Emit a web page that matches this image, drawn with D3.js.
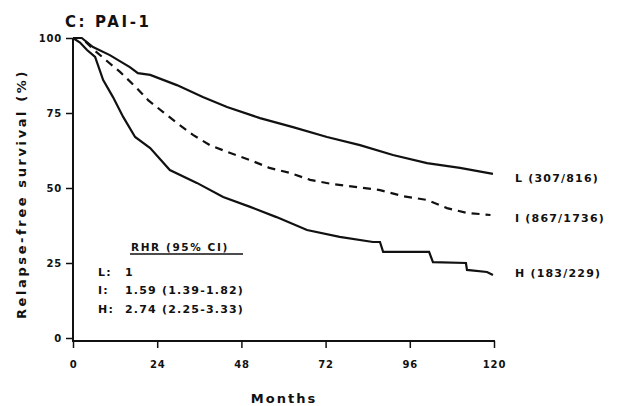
<!DOCTYPE html>
<html><head><meta charset="utf-8">
<script src="https://cdn.jsdelivr.net/npm/d3@7"></script>
<style>body{margin:0;background:#fff}svg{display:block}text{font-family:"DejaVu Sans",sans-serif;font-weight:bold;fill:#111}</style>
</head><body><svg id="c" width="617" height="406"></svg>
<script>
const xTicks = [0, 24, 48, 72, 96, 120];
const yTicks = [0, 25, 50, 75, 100];
const lowSeries = [[0,100],[2.5,100],[5.7,97],[10.5,94.3],[16.2,90.3],[18.5,88.3],[22,87.7],[29.6,84.3],[37,80.3],[43.9,77],[53.3,73.3],[62.7,70.3],[72.4,67],[81.8,64.3],[91.2,61],[100.9,58.3],[110.3,56.7],[119.7,54.7]];
const interSeries = [[0,100],[2.5,100],[6,96],[10,92],[13.4,88.7],[18.2,83.3],[21.4,79.3],[25.7,75.3],[29.6,71.7],[34.2,67.7],[39,64.3],[44,62],[50.5,59.3],[56,56.7],[61.9,55],[67.6,52.7],[74,51.3],[81,50.3],[87.5,49.3],[94,47.3],[101,46],[106.6,43.3],[112.3,41.7],[119,41]];
const highSeries = [[0,100],[2,98.5],[4,96],[6.3,93.7],[8.6,86],[11.4,80.3],[14.3,73.7],[17.7,67],[22,63.3],[27.6,56],[35.3,51.7],[42.8,47],[50.5,43.7],[58,40.3],[66.7,36],[76,33.7],[85.5,32],[87.5,32],[88.4,28.7],[99,28.7],[101.5,28.7],[102.6,25.3],[112,25],[112.3,22.7],[118,22],[119.7,21]];
const seriesLabels = ["L (307/816)", "I (867/1736)", "H (183/229)"];
const hrHeader = "RHR (95% CI)";
const hrGroups = ["L:", "I:", "H:"];
const hrValues = ["1", "1.59 (1.39-1.82)", "2.74 (2.25-3.33)"];

const svg = d3.select("#c");
const x = d3.scaleLinear().domain([0,120]).range([73,494]);
const y = d3.scaleLinear().domain([0,100]).range([338,38]);

svg.append("text").attr("x",65).attr("y",27).attr("font-size",15).attr("letter-spacing",2.6).text("C: PAI-1");

// y axis
const ya = svg.append("g").attr("transform","translate(73,0)")
  .call(d3.axisLeft(y).tickValues(yTicks).tickSize(7).tickPadding(4));
ya.select(".domain").attr("d","M0,38V341").attr("stroke","#111").attr("stroke-width",2);
ya.selectAll(".tick line").attr("stroke","#111").attr("stroke-width",1.5);
ya.selectAll(".tick text").attr("font-size",10).attr("letter-spacing",0.8).attr("font-family","DejaVu Sans").attr("font-weight","bold").attr("fill","#111");

// x axis
const xa = svg.append("g").attr("transform","translate(0,341)")
  .call(d3.axisBottom(x).tickValues(xTicks).tickSize(7).tickPadding(13));
xa.select(".domain").attr("d","M72,0H495").attr("stroke","#111").attr("stroke-width",2);
xa.selectAll(".tick line").attr("stroke","#111").attr("stroke-width",1.5);
xa.selectAll(".tick text").attr("font-size",10).attr("letter-spacing",0.8).attr("font-family","DejaVu Sans").attr("font-weight","bold").attr("fill","#111");

svg.append("text").attr("x",284).attr("y",403).attr("text-anchor","middle").attr("font-size",13).attr("letter-spacing",2).text("Months");
svg.append("text").attr("transform","translate(26,194) rotate(-90)").attr("text-anchor","middle").attr("font-size",13).attr("letter-spacing",2.6).text("Relapse-free survival (%)");

const line = d3.line().x(d=>x(d[0])).y(d=>y(d[1]));
svg.append("path").attr("d",line(lowSeries)).attr("fill","none").attr("stroke","#111").attr("stroke-width",2.2);
svg.append("path").attr("d",line(interSeries)).attr("fill","none").attr("stroke","#111").attr("stroke-width",2.2).attr("stroke-dasharray","8,6");
svg.append("path").attr("d",line(highSeries)).attr("fill","none").attr("stroke","#111").attr("stroke-width",2.2);

const labelY = [178, 218, 273];
seriesLabels.forEach((t,i)=>svg.append("text").attr("x",515).attr("y",labelY[i]+4).attr("font-size",11).attr("letter-spacing",1.2).text(t));

svg.append("text").attr("x",131).attr("y",251).attr("font-size",10.5).attr("letter-spacing",1.6).text(hrHeader);
svg.append("line").attr("x1",130).attr("x2",243).attr("y1",254).attr("y2",254).attr("stroke","#111").attr("stroke-width",1.6);
const rowY = [276, 294, 313];
hrGroups.forEach((g,i)=>{
  svg.append("text").attr("x",98).attr("y",rowY[i]).attr("font-size",11).attr("letter-spacing",1.2).text(g);
  svg.append("text").attr("x",125).attr("y",rowY[i]).attr("font-size",11).attr("letter-spacing",1.2).text(hrValues[i]);
});
</script></body></html>
